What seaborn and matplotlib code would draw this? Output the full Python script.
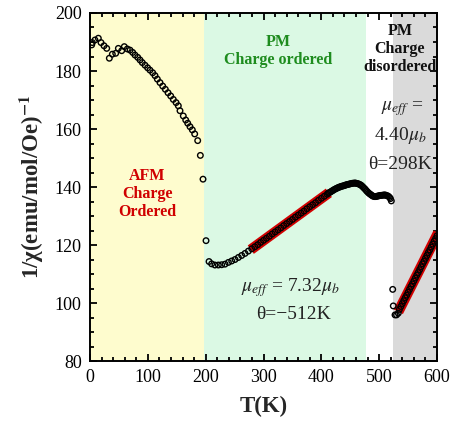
import numpy as np
import pandas as pd
import matplotlib
matplotlib.use("Agg")
import matplotlib.pyplot as plt
import seaborn as sns

# ---------------- data ----------------
T_low = [2.9, 4, 8.6, 14.4, 19, 24.2, 28.9, 33.4, 38.6, 44.4, 49, 54.8, 59.3, 64.5,
         69.2, 73.8, 77.8, 82.5, 86.5, 90.4, 95.1, 99.6, 103.7, 108.4, 112.4, 116.4,
         121, 125.7, 130.2, 134.9, 139.5, 144, 148.8, 152.7, 155.6, 161.3, 165.5,
         168.9, 172.9, 176.9, 181, 186.2, 190.8, 195.4]
chi_low = [189.0, 189.8, 190.7, 191.3, 189.8, 188.7, 187.8, 184.4, 185.8, 186.1, 187.8,
           187.0, 188.4, 187.6, 187.2, 186.4, 185.5, 184.7, 183.8, 182.9, 182.0, 181.1,
           180.3, 179.4, 178.4, 177.2, 176.0, 174.8, 173.7, 172.5, 171.4, 170.2, 169.1,
           168.0, 166.3, 164.5, 163.1, 162.0, 160.8, 159.7, 158.3, 156.0, 150.9, 142.7]

T_mid = [200.6, 205.8, 210.3, 216, 221.9, 227.6, 233.4, 239.3, 245, 250.7, 256.5, 262.3,
         268, 273.8, 279.6, 285, 290, 295, 300, 305, 310, 315, 320, 325, 330, 335, 340,
         345, 350, 355, 360, 365, 370, 375, 380, 385, 390, 395, 400, 405, 410]
chi_mid = [121.5, 114.3, 113.5, 113.1, 113.1, 113.2, 113.4, 114.0, 114.5, 115.0, 115.7,
           116.4, 117.1, 117.9, 118.7, 119.4, 120.1, 120.9, 121.6, 122.3, 123.0, 123.8,
           124.5, 125.2, 125.9, 126.7, 127.4, 128.1, 128.8, 129.6, 130.3, 131.0, 131.7,
           132.5, 133.2, 133.9, 134.6, 135.4, 136.1, 136.8, 137.5]

T_hump = [412, 414, 416, 418, 420, 422, 424, 426, 428, 430, 432, 434, 436, 438, 440, 442,
          444, 446, 448, 450, 452, 454, 456, 458, 460, 462, 464, 466, 468, 470, 472, 474,
          476, 478, 480, 482, 484, 486, 488, 490, 492, 494, 496, 498, 500, 502, 504, 506,
          508, 510, 512, 514, 516, 518, 519.5, 521]
chi_hump = [137.9, 138.1, 138.3, 138.6, 138.8, 139.1, 139.3, 139.5, 139.7, 139.9, 140.0,
            140.2, 140.3, 140.4, 140.5, 140.7, 140.8, 140.9, 141.0, 141.1, 141.2, 141.3,
            141.3, 141.4, 141.3, 141.2, 141.1, 140.9, 140.7, 140.4, 140.0, 139.6, 139.2,
            138.7, 138.3, 137.9, 137.6, 137.3, 137.0, 136.8, 136.7, 136.7, 136.8, 136.9,
            137.0, 137.1, 137.1, 137.2, 137.2, 137.3, 137.1, 137.0, 136.8, 136.4, 136.0,
            135.2]

T_high = [523.4, 524.4, 527.4, 530, 533, 535, 537.5, 540, 542.5, 545, 547.5, 550, 552.5,
          555, 557.5, 560, 562.5, 565, 567.5, 570, 572.5, 575, 577.5, 580, 582.5, 585,
          587.5, 590, 592.5, 595, 597.5, 600]
chi_high = [104.7, 99.0, 95.9, 95.9, 96.5, 97.8, 98.8, 99.8, 100.8, 101.8, 102.7, 103.7,
            104.7, 105.7, 106.6, 107.6, 108.6, 109.6, 110.5, 111.5, 112.5, 113.5, 114.4,
            115.4, 116.4, 117.4, 118.3, 119.3, 120.3, 121.3, 122.2, 123.2]

fit1_T = [278, 413]
fit1_chi = [118.4, 138.0]
fit2_T = [533, 602]
fit2_chi = [97.0, 124.2]

region_edges = [0, 197, 477, 524, 600]
region_colors = ["#fefcce", "#dbf9e4", "#ffffff", "#dadada"]

# ---------------- style ----------------
sns.set_style("ticks")
plt.rcParams["font.family"] = ["Liberation Serif", "DejaVu Serif"]
plt.rcParams["mathtext.fontset"] = "stix"

fig = plt.figure(figsize=(4.53, 4.22), dpi=100)
ax = fig.add_axes([0.1987, 0.1445, 0.766, 0.8247])

for i, c in enumerate(region_colors):
    ax.axvspan(region_edges[i], region_edges[i + 1], color=c, lw=0, zorder=0)

fits = pd.DataFrame({"T": fit1_T + fit2_T, "chi": fit1_chi + fit2_chi,
                     "seg": ["a", "a", "b", "b"]})
sns.lineplot(data=fits, x="T", y="chi", units="seg", estimator=None, color="#d10000",
             lw=7.5, ax=ax, zorder=2, solid_capstyle="butt")

data = pd.DataFrame({"T": T_low + T_mid + T_hump + T_high,
                     "chi": chi_low + chi_mid + chi_hump + chi_high})
sns.scatterplot(data=data, x="T", y="chi", marker="o", s=16, facecolors="none",
                edgecolor="black", linewidth=1.0, ax=ax, zorder=3)

ax.set_xlim(0, 600)
ax.set_ylim(80, 200)
ax.set_xticks([0, 100, 200, 300, 400, 500, 600])
ax.set_yticks([80, 100, 120, 140, 160, 180, 200])
ax.xaxis.set_minor_locator(matplotlib.ticker.MultipleLocator(20))
ax.yaxis.set_minor_locator(matplotlib.ticker.MultipleLocator(5))
ax.tick_params(which="both", direction="in", top=True, right=True, width=1.3,
               labelsize=13, colors="black")
ax.tick_params(which="major", length=5, pad=6)
ax.tick_params(which="minor", length=3)
for s in ax.spines.values():
    s.set_linewidth(1.4)
    s.set_color("black")
    s.set_zorder(5)

ax.set_xlabel("T(K)", fontsize=16.5, fontweight="bold", labelpad=7)
ax.set_ylabel(r"1/χ(emu/mol/Oe)$^{\mathbf{-1}}$", fontsize=16.5, fontweight="bold",
              labelpad=6)

ax.text(99, 137.5, "AFM\nCharge\nOrdered", color="#d00000", fontsize=11.5,
        fontweight="bold", ha="center", va="center", linespacing=1.15)
ax.text(326, 187.0, "PM\nCharge ordered", color="#1e8c1e", fontsize=11.5,
        fontweight="bold", ha="center", va="center", linespacing=1.15)
ax.text(536, 187.5, "PM\nCharge\ndisordered", color="#111111", fontsize=11.5,
        fontweight="bold", ha="center", va="center", linespacing=1.15, zorder=6)

ax.text(539, 167.2, r"$\mu_{eff}$ =", fontsize=14, ha="center", va="center", color="#222222")
ax.text(537, 157.9, r"4.40$\mu_b$", fontsize=14, ha="center", va="center", color="#222222")
ax.text(536, 147.6, "θ=298K", fontsize=14, ha="center", va="center", color="#222222")
ax.text(346, 105.4, r"$\mu_{eff}$ = 7.32$\mu_b$", fontsize=14, ha="center", va="center",
        color="#222222")
ax.text(351, 95.9, "θ=−512K", fontsize=14, ha="center", va="center", color="#222222")

fig.savefig("out.png", dpi=100)
